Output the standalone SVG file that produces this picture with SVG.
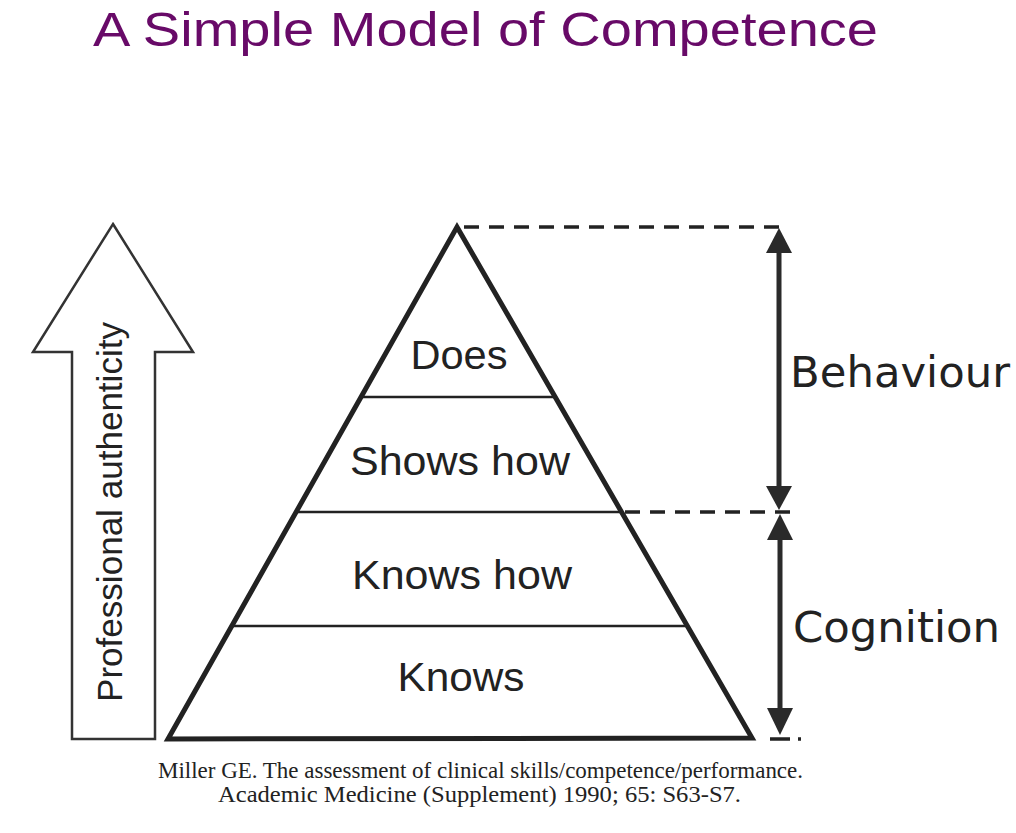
<svg xmlns="http://www.w3.org/2000/svg" width="1016" height="833" viewBox="0 0 1016 833">
  <style>
    .title { font-family: "Liberation Sans", Arial, sans-serif; font-size: 49px; fill: #680a68; }
    .lvl { font-family: "Liberation Sans", Arial, sans-serif; font-size: 40px; fill: #222; text-anchor: middle; }
    .side { font-family: "DejaVu Sans", Verdana, sans-serif; font-size: 43px; fill: #222; }
    .cite { font-family: "Liberation Serif", "Times New Roman", serif; font-size: 23px; fill: #222; }
    .edge { stroke: #222; fill: none; }
    .dash { stroke: #222; stroke-width: 3.5; stroke-dasharray: 15 10; fill: none; }
    .head { fill: #2a2a2a; }
  </style>
  <rect width="1016" height="833" fill="#ffffff"/>
  <text class="title" x="93" y="46" textLength="785" lengthAdjust="spacingAndGlyphs">A Simple Model of Competence</text>

  <g id="authenticity-arrow">
    <polygon points="113,224 193,352 155,352 155,739 72,739 72,352 33,352" fill="#ffffff" stroke="#333" stroke-width="2.5" stroke-linejoin="miter"/>
    <text class="lvl" transform="translate(122,512) rotate(-90)" style="font-size:35px" textLength="380" lengthAdjust="spacingAndGlyphs">Professional authenticity</text>
  </g>

  <g id="pyramid">
    <line class="edge" x1="361" y1="397" x2="555" y2="397" stroke-width="2.5"/>
    <line class="edge" x1="296" y1="512" x2="621" y2="512" stroke-width="2.5"/>
    <line class="edge" x1="232" y1="626" x2="687" y2="626" stroke-width="2.5"/>
    <polygon class="edge" points="457,227 752,738 168,739" stroke-width="5" stroke-linejoin="miter"/>
  </g>
  <g id="does"><text class="lvl" x="459" y="369" textLength="97" lengthAdjust="spacingAndGlyphs">Does</text></g>
  <g id="shows-how"><text class="lvl" x="460" y="475" textLength="220" lengthAdjust="spacingAndGlyphs">Shows how</text></g>
  <g id="knows-how"><text class="lvl" x="462" y="589" textLength="220" lengthAdjust="spacingAndGlyphs">Knows how</text></g>
  <g id="knows"><text class="lvl" x="461" y="691" textLength="127" lengthAdjust="spacingAndGlyphs">Knows</text></g>

  <g id="behaviour"><text class="side" x="790" y="387" textLength="220" lengthAdjust="spacingAndGlyphs">Behaviour</text></g>
  <g id="cognition"><text class="side" x="793" y="642" textLength="207" lengthAdjust="spacingAndGlyphs">Cognition</text></g>

  <g id="connectors">
    <line class="dash" x1="464" y1="227" x2="786" y2="227"/>
    <line class="dash" x1="625" y1="512" x2="800" y2="512"/>
    <line class="dash" x1="770" y1="739" x2="802" y2="739" style="stroke-dasharray: 20 8 3 10"/>
    <line x1="779" y1="250" x2="779" y2="490" stroke="#2a2a2a" stroke-width="5"/>
    <polygon class="head" points="779,228 792,253 766,253"/>
    <polygon class="head" points="779,510 792,486 766,486"/>
    <line x1="780" y1="536" x2="780" y2="712" stroke="#2a2a2a" stroke-width="5"/>
    <polygon class="head" points="780,514 793,540 767,540"/>
    <polygon class="head" points="780,735 793,708 767,708"/>
  </g>

  <text class="cite" x="158" y="778" textLength="645" lengthAdjust="spacingAndGlyphs">Miller GE. The assessment of clinical skills/competence/performance.</text>
  <text class="cite" x="218" y="802" textLength="523" lengthAdjust="spacingAndGlyphs">Academic Medicine (Supplement) 1990; 65: S63-S7.</text>
</svg>
